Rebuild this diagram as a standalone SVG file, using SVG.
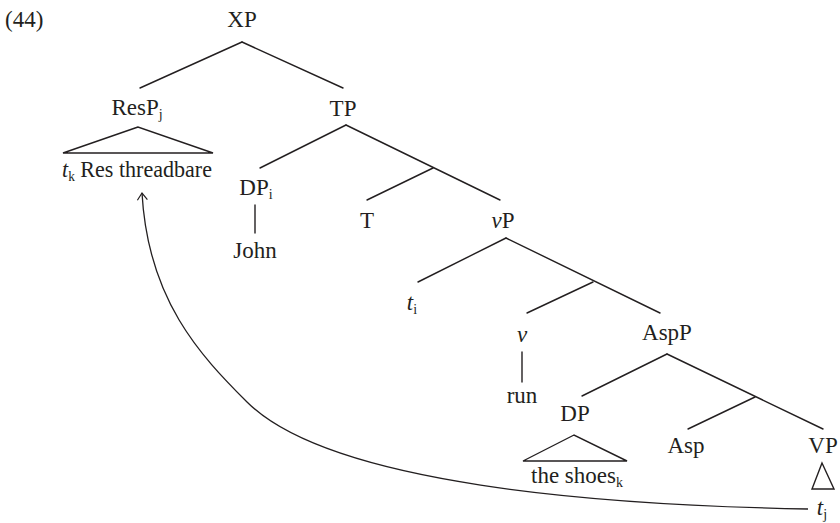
<svg xmlns="http://www.w3.org/2000/svg" width="840" height="523" viewBox="0 0 840 523" font-family="'Liberation Serif', 'Times New Roman', 'DejaVu Serif', serif">
  <style>
    text { font-family: 'Liberation Serif', 'Times New Roman', 'DejaVu Serif', serif; font-size: 23px; fill: #231f20; }
    .c { text-anchor: middle; }
    .i { font-style: italic; }
    .sub { font-size: 14px; }
    .edge { stroke: #231f20; stroke-width: 1.4; fill: none; stroke-linecap: round; }
    .tri { stroke: #231f20; stroke-width: 1.4; fill: none; stroke-linejoin: miter; }
    .move { stroke: #231f20; stroke-width: 1.3; fill: none; }
  </style>
  <defs>
    <marker id="head" viewBox="0 0 12 12" refX="10" refY="6" markerWidth="12" markerHeight="12" markerUnits="userSpaceOnUse" orient="auto">
      <path d="M3,1 L10,6 L3,11" fill="none" stroke="#231f20" stroke-width="1.2"/>
    </marker>
  </defs>

  <rect width="840" height="523" fill="#ffffff"/>

  <text x="5" y="27">(44)</text>

  <!-- branches -->
  <g id="connectors">
    <line class="edge" x1="242" y1="42" x2="140" y2="88"/>
    <line class="edge" x1="242" y1="42" x2="343" y2="88"/>
    <line class="edge" x1="346" y1="125" x2="260" y2="168"/>
    <line class="edge" x1="346" y1="125" x2="500" y2="200"/>
    <line class="edge" x1="433" y1="168" x2="367" y2="200"/>
    <line class="edge" x1="255" y1="205" x2="255" y2="233"/>
    <line class="edge" x1="506" y1="238" x2="418" y2="282"/>
    <line class="edge" x1="506" y1="238" x2="660" y2="313"/>
    <line class="edge" x1="593" y1="282" x2="527" y2="313"/>
    <line class="edge" x1="522" y1="352" x2="522" y2="382"/>
    <line class="edge" x1="667" y1="354" x2="582" y2="396"/>
    <line class="edge" x1="667" y1="354" x2="823" y2="429"/>
    <line class="edge" x1="755" y1="397" x2="688" y2="429"/>
    <!-- movement arrow from t_j up to the fronted ResP -->
    <path class="move" marker-end="url(#head)" d="M808,509 C600,505 330,485 247,402 C200,355 148,300 142,193"/>
  </g>

  <g id="XP"><text class="c" x="242" y="27">XP</text></g>

  <g id="ResP">
    <text class="c" x="137" y="115">ResP<tspan class="sub" dy="4">j</tspan></text>
    <polygon class="tri" points="138,127 63,153 213,153"/>
    <text x="62" y="177" textLength="150" lengthAdjust="spacingAndGlyphs"><tspan class="i">t</tspan><tspan class="sub" dy="4">k</tspan><tspan dy="-4"> Res threadbare</tspan></text>
  </g>

  <g id="TP"><text class="c" x="343" y="116">TP</text></g>

  <g id="DPi">
    <text class="c" x="256" y="195">DP<tspan class="sub" dy="4">i</tspan></text>
  </g>
  <g id="John"><text class="c" x="255" y="258">John</text></g>

  <g id="T"><text class="c" x="367" y="228">T</text></g>

  <g id="vP"><text class="c" x="503" y="228"><tspan class="i">v</tspan>P</text></g>

  <g id="ti"><text class="c" x="412" y="310"><tspan class="i">t</tspan><tspan class="sub" dy="4">i</tspan></text></g>

  <g id="v"><text class="c i" x="522" y="342">v</text></g>
  <g id="run"><text class="c" x="522" y="403">run</text></g>

  <g id="AspP"><text class="c" x="667" y="340">AspP</text></g>

  <g id="DP">
    <text class="c" x="575" y="421">DP</text>
    <polygon class="tri" points="574,435 523,461 627,461"/>
    <text class="c" x="577" y="483">the shoes<tspan class="sub" dy="4">k</tspan></text>
  </g>

  <g id="Asp"><text class="c" x="686" y="453">Asp</text></g>

  <g id="VP">
    <text class="c" x="823" y="453">VP</text>
    <polygon class="tri" points="822,463 812,489 834,489"/>
    <text class="c" x="822" y="515"><tspan class="i">t</tspan><tspan class="sub" dy="4">j</tspan></text>
  </g>
</svg>
